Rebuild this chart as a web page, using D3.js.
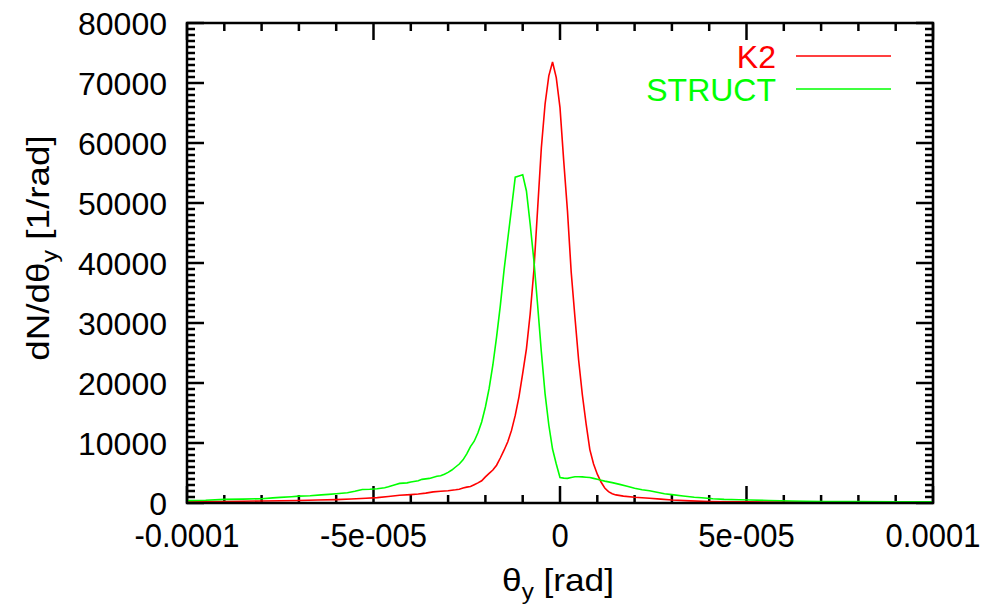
<!DOCTYPE html>
<html>
<head>
  <meta charset="utf-8">
  <title>dN/dtheta_y</title>
  <script src="https://d3js.org/d3.v7.min.js" charset="utf-8"></script>
  <style>
    body { margin: 0; background: #fff; }
    text { font-family: "Liberation Sans", Arial, Helvetica, sans-serif; }
  </style>
</head>
<body>
  <div id="chart"></div>
  <script type="text/javascript">
    // angle in microrad, value in 1/rad
    var k2Theta = [-100, -95, -90, -85, -80, -75, -70, -65, -60, -56, -52, -49, -46, -43, -40, -38, -36, -34, -32, -30,
      -28, -27, -26, -25, -24, -23, -22, -21, -20, -19, -18, -17, -16, -15, -14, -13, -12, -11, -10, -9,
      -8, -7, -6, -5, -4, -3, -2, -1, 0, 1, 2, 3, 4, 5, 6, 7, 8, 9, 10, 11,
      12, 13, 14, 15, 17, 20, 24, 27, 30, 35, 40, 45, 50, 60, 70, 80, 90, 100]
    var k2Vals = [200, 230, 260, 300, 330, 370, 420, 490, 560, 660, 800, 900, 1080, 1280, 1400, 1500, 1650, 1850, 1950, 2050,
      2200, 2300, 2500, 2650, 2750, 3050, 3350, 3700, 4350, 4950, 5500, 6300, 7500, 8800, 10200, 12100, 14600, 17700, 21600, 25700,
      31500, 38800, 49000, 59200, 66500, 71200, 73500, 70900, 65900, 57000, 48700, 38500, 31000, 23800, 18000, 13200, 8900, 6500, 4800, 3500,
      2500, 1900, 1550, 1350, 1150, 950, 800, 650, 500, 350, 260, 220, 190, 150, 130, 110, 100, 90]

    var structTheta = [-100, -95, -90, -85, -80, -77, -75, -72, -70, -67, -64, -62, -60, -57, -55, -53, -51, -49, -47, -46,
      -44, -43, -41, -40, -38, -37, -35, -33, -32, -31, -30, -29, -28, -27, -26, -25, -24, -23, -22, -21,
      -20, -19, -18, -17, -16, -15, -14, -13, -12, -11, -10, -9, -8, -7, -6, -5, -4, -3, -2, -1,
      0, 1, 2, 3, 4, 5, 6, 7, 8, 9, 10, 11, 12, 14, 16, 18, 20, 22, 24, 26,
      28, 30, 33, 36, 38, 41, 44, 48, 51, 56, 62, 66, 71, 80, 90, 100]
    var structVals = [400, 450, 600, 650, 720, 850, 940, 1050, 1150, 1220, 1350, 1440, 1550, 1710, 1950, 2250, 2300, 2380, 2550, 2710,
      3100, 3270, 3350, 3500, 3700, 3940, 4100, 4450, 4550, 4800, 5100, 5500, 6000, 6500, 7200, 8200, 9400, 10300, 11700, 13500,
      16000, 19100, 23000, 27700, 32900, 38800, 44000, 49100, 54300, 54500, 54700, 52000, 46500, 40400, 33000, 25200, 18200, 13000, 9000, 6500,
      4250, 4150, 4100, 4250, 4380, 4380, 4350, 4300, 4250, 4100, 3950, 3800, 3650, 3400, 3100, 2800, 2450, 2200, 2050, 1800,
      1550, 1400, 1160, 950, 880, 720, 610, 550, 500, 420, 330, 280, 240, 230, 220, 220]

    var xTickVals = [-0.0001, -0.00005, 0, 0.00005, 0.0001]
    var xTickLabels = ["-0.0001", "-5e-005", "0", "5e-005", "0.0001"]
    var yTickVals = [0, 10000, 20000, 30000, 40000, 50000, 60000, 70000, 80000]

    var series = [
      { name: "K2", color: "#ff0000", theta: k2Theta, vals: k2Vals },
      { name: "STRUCT", color: "#00ff00", theta: structTheta, vals: structVals }
    ]

    var W = 983, H = 605
    var pL = 187, pR = 933, pT = 23, pB = 503

    var svg = d3.select("#chart")
      .append("svg")
      .attr("width", W)
      .attr("height", H)

    var x = d3.scaleLinear().domain([-0.0001, 0.0001]).range([pL, pR])
    var y = d3.scaleLinear().domain([0, 80000]).range([pB, pT])

    var minorX = d3.range(-100, 101, 10).map(function (d) { return d * 1e-6 })
    var minorY = d3.range(0, 80001, 1000)

    // ticks, drawn inwards on all four sides
    var ticks = svg.append("g").attr("stroke", "#000").attr("stroke-width", 2.5)
    minorX.forEach(function (v) {
      var major = Math.abs(Math.round(v * 1e6)) % 50 === 0
      var len = major ? 17 : 8
      ticks.append("line").attr("x1", x(v)).attr("x2", x(v)).attr("y1", pB).attr("y2", pB - len)
      ticks.append("line").attr("x1", x(v)).attr("x2", x(v)).attr("y1", pT).attr("y2", pT + len)
    })
    minorY.forEach(function (v) {
      var len = v % 10000 === 0 ? 17 : 8
      ticks.append("line").attr("x1", pL).attr("x2", pL + len).attr("y1", y(v)).attr("y2", y(v))
      ticks.append("line").attr("x1", pR).attr("x2", pR - len).attr("y1", y(v)).attr("y2", y(v))
    })

    // curves
    var line = d3.line()
      .x(function (d) { return x(d[0] * 1e-6) })
      .y(function (d) { return y(d[1]) })

    series.forEach(function (s) {
      var pts = s.theta.map(function (t, i) { return [t, s.vals[i]] })
      svg.append("path")
        .attr("d", line(pts))
        .attr("fill", "none")
        .attr("stroke", s.color)
        .attr("stroke-width", 1.6)
    })

    // frame
    svg.append("rect")
      .attr("x", pL).attr("y", pT)
      .attr("width", pR - pL).attr("height", pB - pT)
      .attr("fill", "none").attr("stroke", "#000").attr("stroke-width", 2.5)

    // tick labels (x labels are a bit taller in the original)
    svg.append("g").selectAll("text")
      .data(xTickVals)
      .join("text")
      .attr("transform", function (d) { return "translate(" + x(d) + ",547) scale(1,1.1)" })
      .attr("text-anchor", "middle")
      .attr("font-size", 31)
      .text(function (d, i) { return xTickLabels[i] })

    svg.append("g").selectAll("text")
      .data(yTickVals)
      .join("text")
      .attr("x", 167)
      .attr("y", function (d) { return y(d) })
      .attr("dy", "0.36em")
      .attr("text-anchor", "end")
      .attr("font-size", 32)
      .text(function (d) { return d })

    // axis titles, slightly stretched along the text like the original
    var xl = svg.append("text")
      .attr("transform", "translate(558,591) scale(1.1,1)")
      .attr("text-anchor", "middle")
      .attr("font-size", 32)
    xl.append("tspan").text("θ")
    xl.append("tspan").attr("dy", 8).attr("font-size", 22).text("y")
    xl.append("tspan").attr("dy", -8).text(" [rad]")

    var yl = svg.append("text")
      .attr("transform", "translate(49,248) rotate(-90) scale(1.15,1)")
      .attr("text-anchor", "middle")
      .attr("font-size", 32)
    yl.append("tspan").text("dN/dθ")
    yl.append("tspan").attr("dy", 8).attr("font-size", 22).text("y")
    yl.append("tspan").attr("dy", -8).text(" [1/rad]")

    // legend
    series.forEach(function (s, i) {
      var ly = 56 + i * 33
      svg.append("text")
        .attr("x", 776).attr("y", ly)
        .attr("dy", "0.36em")
        .attr("text-anchor", "end")
        .attr("font-size", 32)
        .attr("fill", s.color)
        .text(s.name)
      svg.append("line")
        .attr("x1", 796).attr("x2", 891)
        .attr("y1", ly).attr("y2", ly)
        .attr("stroke", s.color).attr("stroke-width", 1.6)
    })
  </script>
</body>
</html>
